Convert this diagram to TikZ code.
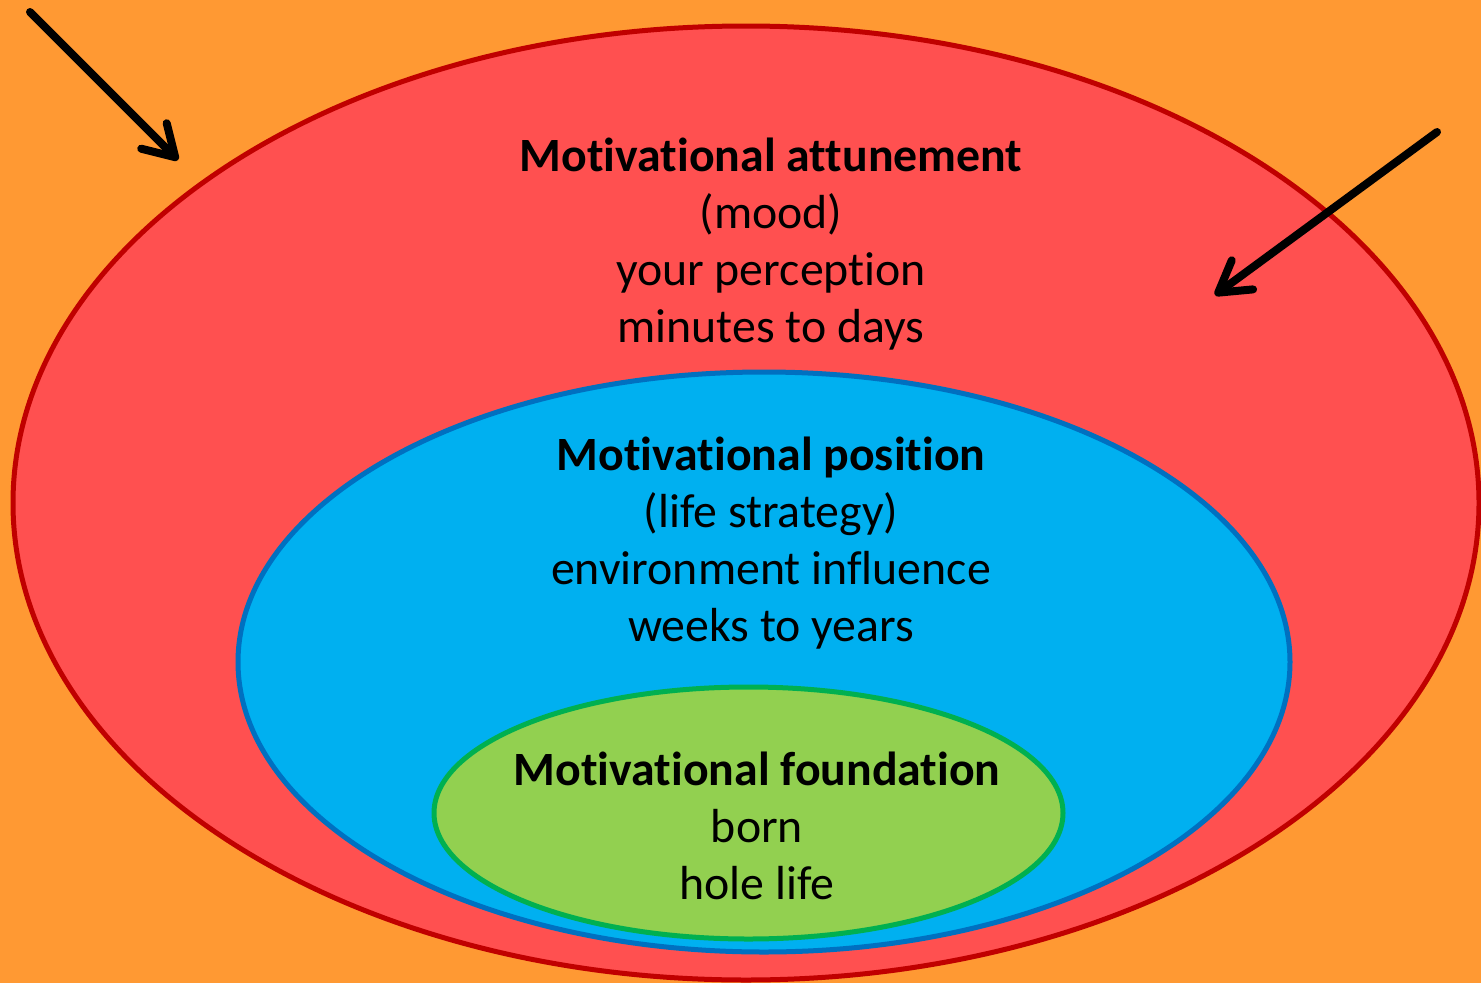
\documentclass[tikz,border=0pt]{standalone}
\usepackage{fontspec}
\setmainfont[Ligatures=NoCommon]{Carlito}
\usetikzlibrary{shapes.geometric,arrows.meta}
\definecolor{bgorange}{HTML}{FF9933}
\definecolor{attunefill}{HTML}{FF5050}
\definecolor{attunedraw}{HTML}{C00000}
\definecolor{posfill}{HTML}{00B0F0}
\definecolor{posdraw}{HTML}{0070C0}
\definecolor{foundfill}{HTML}{92D050}
\definecolor{founddraw}{HTML}{00B050}
\tikzstyle{layer} = [ellipse, draw, line width=5pt, inner sep=0pt]
\tikzstyle{caption} = [align=center, anchor=base, inner sep=0pt, font=\fontsize{47.8}{57}\selectfont]
\tikzstyle{pointer} = [->, line width=8pt, line cap=round]

\begin{document}
\begin{tikzpicture}[x=1pt,y=-1pt,>={Straight Barb[length=30pt,width=36pt,round]}]
  \fill[bgorange] (0,0) rectangle (1481,983);
  \useasboundingbox (0,0) rectangle (1481,983);

  \node[layer, fill=attunefill, draw=attunedraw, minimum width=1466pt, minimum height=954pt] (Attune) at (746,503) {};
  \node[layer, fill=posfill, draw=posdraw, minimum width=1052pt, minimum height=580pt] (Position) at (764,662) {};
  \node[layer, fill=foundfill, draw=founddraw, minimum width=629pt, minimum height=252pt] (Found) at (748.5,813) {};

  % base anchor sits on the last line
  \node[caption] (Attune_txt) at (771,342) {\textbf{Motivational attunement}\\(mood)\\your perception\\minutes to days};
  \node[caption] (Position_txt) at (771,641) {\textbf{Motivational position}\\(life strategy)\\environment influence\\weeks to years};
  \node[caption] (Found_txt) at (757,899) {\textbf{Motivational foundation}\\born\\hole life};

  \coordinate (Left_start) at (30,12);
  \coordinate (Left_tip) at (178,160);
  \coordinate (Right_start) at (1437,132);
  \coordinate (Right_tip) at (1215,295);

  \draw[pointer] (Left_start) -- (Left_tip);
  \draw[pointer] (Right_start) -- (Right_tip);
\end{tikzpicture}
\end{document}
